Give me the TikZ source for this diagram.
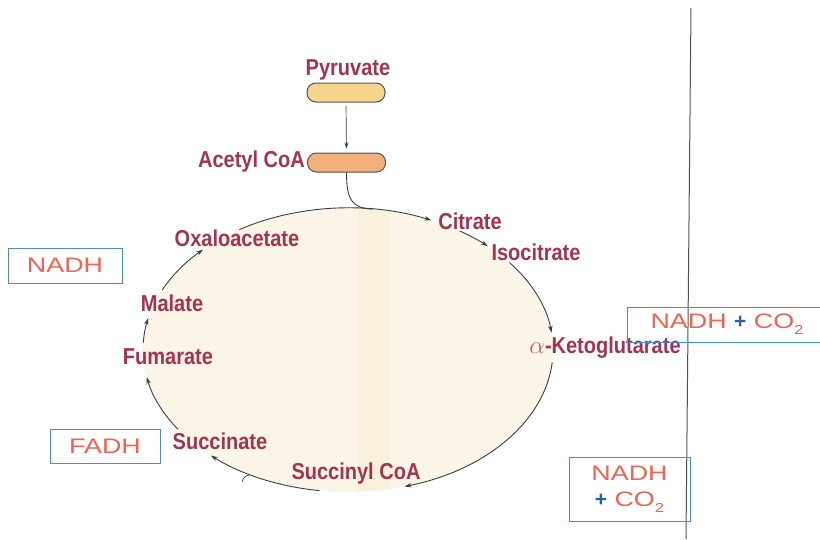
\documentclass[tikz,border=0pt]{standalone}
\usepackage{fontspec}
\usetikzlibrary{arrows.meta,calc}
\newfontface\labf[FakeStretch=0.87]{Liberation Sans Bold}
\newfontface\boxf[FakeStretch=1.28]{Liberation Sans}
\newfontface\plusf{Liberation Sans Bold}
\definecolor{labc}{HTML}{A3344F}
\definecolor{alphac}{HTML}{C8587A}
\definecolor{boxt}{HTML}{EE6352}
\definecolor{boxb}{HTML}{4A8CC6}
\definecolor{plusc}{HTML}{2E5D9F}
\definecolor{cream}{HTML}{FBF5E8}
\definecolor{stripe}{HTML}{F8ECCB}
\definecolor{linec}{HTML}{3A3F42}
\definecolor{pyrf}{HTML}{F6D48C}
\definecolor{acf}{HTML}{F4B07A}
\newcommand{\cotwo}{CO\raisebox{-0.28em}{\fontsize{13}{13}\selectfont 2}}
\begin{document}
\begin{tikzpicture}[x=1pt,y=-1pt,
  lab/.style={text=labc,font=\labf\fontsize{23}{26}\selectfont,inner sep=0pt},
  pill/.style={draw=linec!90,line width=1pt,rounded corners=9pt,minimum width=78pt,minimum height=19pt,inner sep=0pt},
  nbox/.style={draw=boxb,line width=1pt,text=boxt,font=\boxf\fontsize{21}{24}\selectfont,inner sep=0pt,align=center},
  cyc/.style={draw=linec,line width=0.9pt},
  tip/.style={-{Stealth[length=7pt,width=4.5pt]}}
]
\useasboundingbox (0,0) rectangle (820,539);
% ellipse fill
\coordinate (C) at (348,350);
\fill[cream] (C) ellipse [x radius=205, y radius=142];
\begin{scope}
  \clip (C) ellipse [x radius=205, y radius=142];
  \fill[stripe,opacity=0.4] (358,200) rectangle (390,500);
\end{scope}
% vertical line
\draw[linec!90,line width=1pt] (691,8) -- (686,539);
% top pills
\node[lab] (pyr) at (348,70) {Pyruvate};
\node[pill,fill=pyrf] (pyrbox) at (346,92.5) {};
\node[pill,fill=acf] (acbox) at (346.5,162.5) {};
\node[lab,anchor=east] (acl) at (305,162) {Acetyl CoA};
\draw[linec,line width=0.7pt,-{Stealth[length=6pt,width=4pt]},shorten <=3pt,shorten >=4pt] (pyrbox.south) -- (acbox.north);
\coordinate (J) at ($(C)+(277:205 and 142)$);
\draw[cyc] (acbox.south) .. controls (346.5,200) and (352,208.5) .. (J);
% cycle labels
\node[lab] (cit) at (470,221) {Citrate};
\node[lab] (iso) at (536,252) {Isocitrate};
\node[lab] (akg) at (605,348) {{\color{alphac}$\alpha$}-Ketoglutarate};
\node[lab] (oaa) at (237,238) {Oxaloacetate};
\node[lab] (mal) at (172,303) {Malate};
\node[lab] (fum) at (168,357) {Fumarate};
\node[lab] (suc) at (220,441) {Succinate};
\node[lab] (scoa) at (356,474) {Succinyl CoA};
% cycle arrows
\draw[cyc,tip] (C) ++(238:205 and 142) arc[start angle=238,end angle=294,x radius=205,y radius=142];
\draw[cyc,tip] (C) ++(303:205 and 142) arc[start angle=303,end angle=313,x radius=205,y radius=142];
\draw[cyc,tip] (C) ++(322:205 and 142) arc[start angle=322,end angle=353,x radius=205,y radius=142];
\draw[cyc,tip] (C) ++(5:205 and 142) arc[start angle=5,end angle=74,x radius=205,y radius=142];
\draw[cyc,tip] (C) ++(98:205 and 142) arc[start angle=98,end angle=132,x radius=205,y radius=142];
\draw[cyc,tip] (C) ++(146:205 and 142) arc[start angle=146,end angle=169,x radius=205,y radius=142];
\draw[cyc,tip] (C) ++(183:205 and 142) arc[start angle=183,end angle=193,x radius=205,y radius=142];
\draw[cyc,tip] (C) ++(205:205 and 142) arc[start angle=205,end angle=225,x radius=205,y radius=142];
\draw[cyc,line width=0.7pt] (242,482) .. controls (243,478) and (245,476) .. (249,475);
% product boxes
\node[nbox,minimum width=114pt,minimum height=35pt] (n1) at (65,265.5) {NADH};
\node[nbox,minimum width=110pt,minimum height=34pt] (fa) at (105,446) {FADH};
\node[nbox,minimum width=200pt,minimum height=35pt] (n2) at (727,324.5) {NADH {\plusf\color{plusc}+} \cotwo};
\node[nbox,minimum width=121pt,minimum height=64pt] (n3) at (629.5,489) {NADH\\[2pt]{\plusf\color{plusc}+} \cotwo};
\end{tikzpicture}
\end{document}
